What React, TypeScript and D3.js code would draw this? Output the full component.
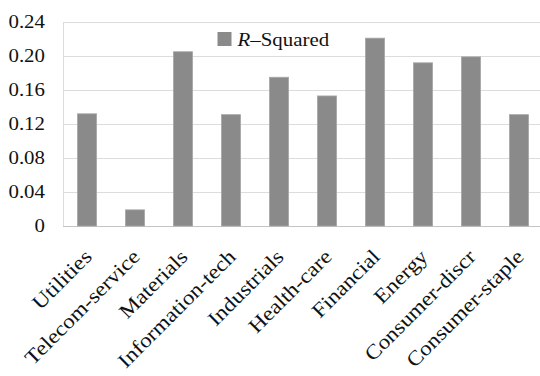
import React from "react";
import * as d3 from "d3";

const sectors = [
  "Utilities",
  "Telecom-service",
  "Materials",
  "Information-tech",
  "Industrials",
  "Health-care",
  "Financial",
  "Energy",
  "Consumer-discr",
  "Consumer-staple",
];
const rSquared = [0.132, 0.019, 0.205, 0.131, 0.175, 0.153, 0.221, 0.192, 0.199, 0.131];
const yTicks = [0, 0.04, 0.08, 0.12, 0.16, 0.2, 0.24];
const yTickLabels = ["0", "0.04", "0.08", "0.12", "0.16", "0.20", "0.24"];

const W = 540;
const H = 376;
const margin = { left: 63, right: -3, top: 22, bottom: 150 };
const font = '"Liberation Serif"';
const stretch = 1.13;

export default function App() {
  const x = d3
    .scaleBand<string>()
    .domain(sectors)
    .range([margin.left, W - margin.right])
    .paddingInner(0.6)
    .paddingOuter(0.3);
  const y = d3
    .scaleLinear()
    .domain([0, 0.24])
    .range([H - margin.bottom, margin.top]);

  return (
    <svg
      width={W}
      height={H}
      style={{ position: "absolute", left: 0, top: 0, background: "#fff" }}
    >
      {/* horizontal gridlines */}
      {yTicks.map((t) => (
        <line
          key={t}
          x1={margin.left}
          x2={W}
          y1={y(t) + 0.5}
          y2={y(t) + 0.5}
          stroke={t === 0 ? "#c4c4c4" : "#dcdcdc"}
          strokeWidth={1}
        />
      ))}
      <line
        x1={margin.left + 0.5}
        x2={margin.left + 0.5}
        y1={y(0.24)}
        y2={y(0)}
        stroke="#dcdcdc"
      />
      {/* y tick labels */}
      {yTicks.map((t, i) => (
        <text
          key={t}
          transform={`translate(45,${y(t)}) scale(${stretch},1)`}
          dy="0.32em"
          textAnchor="end"
          fontSize={18.5}
          fill="#111"
          style={{ fontFamily: font }}
        >
          {yTickLabels[i]}
        </text>
      ))}
      {/* bars */}
      {sectors.map((s, i) => (
        <rect
          key={s}
          x={x(s)}
          y={y(rSquared[i])}
          width={x.bandwidth()}
          height={y(0) - y(rSquared[i])}
          fill="#8a8a8a"
          stroke="#a8a8a8"
          strokeWidth={0.8}
        />
      ))}
      {/* category labels */}
      {sectors.map((s) => {
        const cx = (x(s) as number) + x.bandwidth() / 2 + 6;
        const cy = y(0) + 32;
        return (
          <text
            key={s}
            transform={`translate(${cx},${cy}) rotate(-45) scale(${stretch},1)`}
            textAnchor="end"
            fontSize={20.5}
            fill="#111"
            style={{ fontFamily: font }}
          >
            {s}
          </text>
        );
      })}
      {/* legend */}
      <rect x={217.5} y={32} width={14} height={14} fill="#8a8a8a" />
      <text
        transform={`translate(237.5,46) scale(${stretch},1)`}
        fontSize={18.5}
        fill="#111"
        style={{ fontFamily: font }}
      >
        <tspan fontStyle="italic">R</tspan>–Squared
      </text>
    </svg>
  );
}
